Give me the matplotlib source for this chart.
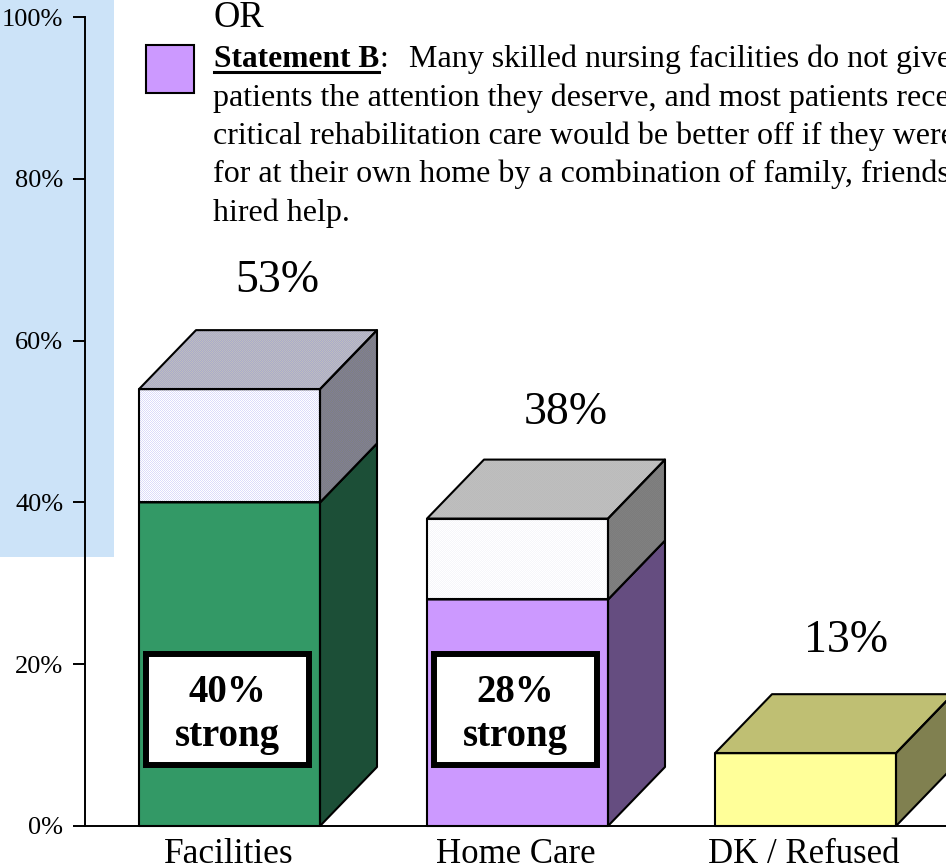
import matplotlib
matplotlib.use("Agg")
import matplotlib.pyplot as plt
from matplotlib.colors import to_rgb
import numpy as np
from matplotlib.patches import Polygon, Rectangle

plt.rcParams['font.family'] = ['Liberation Serif', 'DejaVu Serif']

W, H = 946, 867

categories = ["Facilities", "Home Care", "DK / Refused"]
lower_values = [40, 28, 9]
upper_values = [14, 10, 0]
total_labels = ["53%", "38%", "13%"]
strong_labels = ["40%", "28%"]
y_ticks = [0, 20, 40, 60, 80, 100]

lower_colors = ["#339966", "#CC99FF", "#FFFF99"]
lower_sides = ["#1C4F37", "#654D80", "#808050"]
lower_tops = ["#267350", "#9973BF", "#BFBF73"]
upper_colors = ["#FFFFFF", "#FFFFFF", None]
upper_sides = ["#808080", "#808080", None]
upper_tops = ["#BEBEBE", "#BEBEBE", None]
# second colour of the dither on front, side and top faces
upper_dots = [("#DCDCFA", "#7E7E96", "#ABABCB"), ("#F6F6FA", "#7C7C7C", "#BBBBBB"), None]

statement_lines = [
    "patients the attention they deserve, and most patients rece",
    "critical rehabilitation care would be better off if they were",
    "for at their own home by a combination of family, friends",
    "hired help.",
]


def fx(px):
    return px / W


def fy(py):
    return 1 - py / H


fig = plt.figure(figsize=(W / 100, H / 100), dpi=100)
fig.patches.append(Rectangle((0, fy(557)), fx(114), 1 - fy(557), transform=fig.transFigure,
                             facecolor="#CCE3F8", edgecolor="none", zorder=-1))

# axes run from the y axis to the right edge, one x unit is one bar spacing
ax = fig.add_axes([fx(85), fy(826), fx(W - 85), fy(17) - fy(826)])
ax.patch.set_visible(False)
UNIT = 288
BAR_W = 181 / UNIT
DX = 57 / UNIT
DY = 59 / 8.09
XLIM = ((85 - 229.5) / UNIT, (W - 229.5) / UNIT)
ax.set_xlim(XLIM)
ax.set_ylim(0, 100)
for side in ["top", "right"]:
    ax.spines[side].set_visible(False)
for side in ["left", "bottom"]:
    ax.spines[side].set_linewidth(1.4)
ax.set_yticks(y_ticks)
ax.set_yticklabels([f"{t}%" for t in y_ticks], fontsize=19)
ax.tick_params(axis="y", length=8.5, width=1.4, pad=7)
ax.set_xticks([])


def add_dither(points, color, dot, z):
    # one pixel checkerboard, image snapped to the pixel grid and clipped to the face
    pts = np.array(points)
    corners = ax.transData.transform([pts.min(axis=0), pts.max(axis=0)])
    x0, y_low = np.floor(corners[0])
    x1, y_high = np.ceil(corners[1])
    (dl, db), (dr, dt) = ax.transData.inverted().transform([(x0, y_low), (x1, y_high)])
    rows, cols = int(y_high - y_low), int(x1 - x0)
    yy, xx = np.indices((rows, cols))
    checker = (np.where((xx + yy) % 2 == 0, 1, 0))[..., None]
    dots = (checker * np.array(to_rgb(dot)) + (1 - checker) * np.array(to_rgb(color))) * 255
    im = ax.imshow(dots.astype(np.uint8), extent=(dl, dr, db, dt), aspect="auto", interpolation="none",
                   zorder=z)
    im.set_clip_path(Polygon(points, transform=ax.transData))


def add_block(x, y0, y1, colors, dots, z):
    left, right = x - BAR_W / 2, x + BAR_W / 2
    faces = [
        [(left, y0), (right, y0), (right, y1), (left, y1)],
        [(right, y0), (right + DX, y0 + DY), (right + DX, y1 + DY), (right, y1)],
        [(left, y1), (right, y1), (right + DX, y1 + DY), (left + DX, y1 + DY)],
    ]
    for n, (points, color) in enumerate(zip(faces, colors)):
        ax.add_patch(Polygon(points, facecolor=color, edgecolor="none", clip_on=False, zorder=z))
        if dots:
            add_dither(points, color, dots[n], z + 0.1)
        ax.add_patch(Polygon(points, fill=False, edgecolor="black", linewidth=1.5, clip_on=False,
                             zorder=z + 0.2, joinstyle="round"))


for i, name in enumerate(categories):
    low = lower_values[i]
    up = upper_values[i]
    add_block(i, 0, low, (lower_colors[i], lower_sides[i], lower_tops[i]), None, 3)
    if up:
        add_block(i, low, low + up, (upper_colors[i], upper_sides[i], upper_tops[i]), upper_dots[i], 4)
ax.set_xlim(XLIM)
ax.set_ylim(0, 100)

fig.text(fx(228.5), fy(863), categories[0], fontsize=25.5, ha="center", va="baseline")
fig.text(fx(516), fy(863), categories[1], fontsize=25, ha="center", va="baseline")
fig.text(fx(804), fy(863), categories[2], fontsize=25, ha="center", va="baseline")

fig.text(fx(277.5), fy(292), total_labels[0], fontsize=33, ha="center", va="baseline")
fig.text(fx(566), fy(424), total_labels[1], fontsize=33, ha="center", va="baseline")
fig.text(fx(846), fy(652), total_labels[2], fontsize=33, ha="center", va="baseline")

box_left = [146, 434]
for i, label in enumerate(strong_labels):
    fig.patches.append(Rectangle((fx(box_left[i]), fy(764.5)), fx(162.5), fy(654) - fy(764.5),
                                 transform=fig.transFigure, facecolor="white",
                                 edgecolor="black", linewidth=4.3, zorder=5))
    fig.text(fx(box_left[i] + 81), fy(702), label, fontsize=28, fontweight="bold",
             ha="center", va="baseline", zorder=6)
    fig.text(fx(box_left[i] + 81), fy(746), "strong", fontsize=28, fontweight="bold",
             ha="center", va="baseline", zorder=6)

# legend text above the bars
fig.text(fx(213), fy(27), "OR", fontsize=26.3, va="baseline")
fig.patches.append(Rectangle((fx(146), fy(93)), fx(48), fy(45) - fy(93), transform=fig.transFigure,
                             facecolor="#CC99FF", edgecolor="black", linewidth=1.5))
bold = fig.text(fx(214), fy(67), "Statement B", fontsize=22.6, fontweight="bold", va="baseline")
fig.canvas.draw()
box = bold.get_window_extent()
fig.add_artist(plt.Line2D([fx(214), box.x1 / W], [fy(71.7), fy(71.7)], color="black", linewidth=2.2))
fig.text(box.x1 / W, fy(67), ":", fontsize=23, va="baseline")
fig.text(fx(409), fy(67), "Many skilled nursing facilities do not give", fontsize=23, va="baseline")
for n, line in enumerate(statement_lines):
    fig.text(fx(213), fy(106 + n * 38.2), line, fontsize=23, va="baseline")

fig.savefig("out.png", dpi=100)
